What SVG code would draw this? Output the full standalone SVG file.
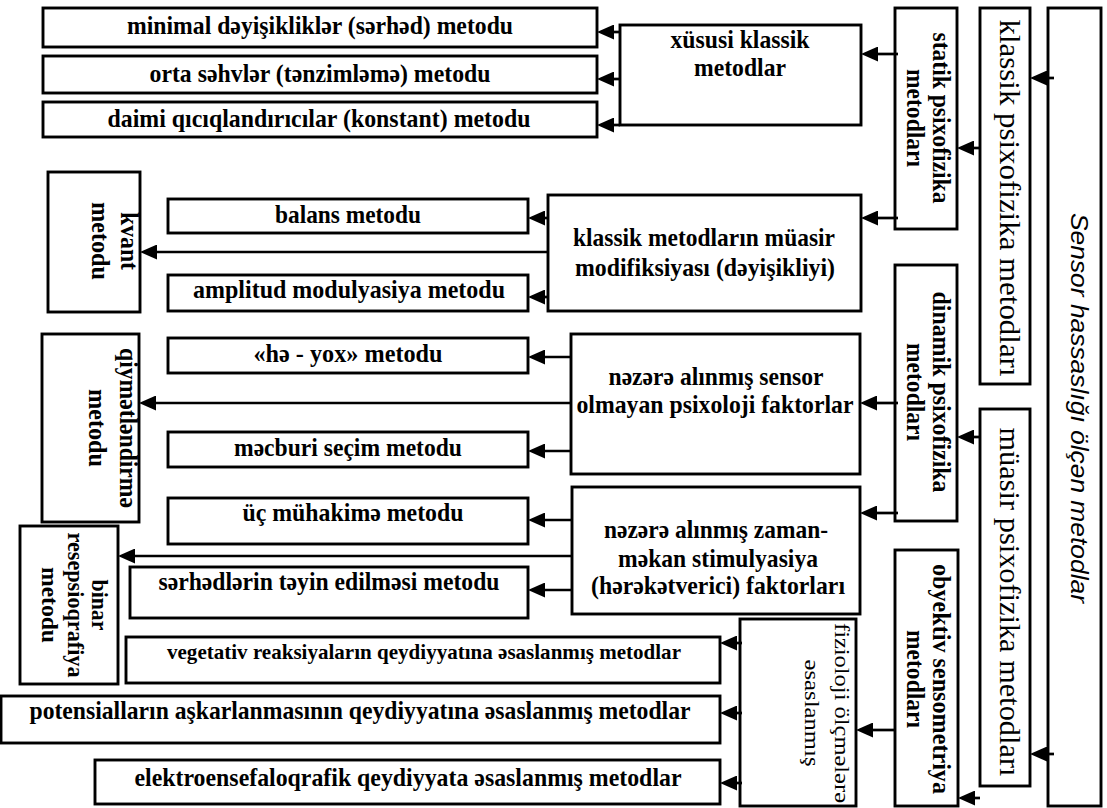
<svg xmlns="http://www.w3.org/2000/svg" width="1107" height="808" viewBox="0 0 1107 808">
<style>
.box{fill:#fff;stroke:#000;stroke-width:2.9}
.b{font-family:"Liberation Serif","Times New Roman",serif;font-weight:bold;font-size:25px;text-anchor:middle;fill:#000}
.r{font-family:"Liberation Serif","Times New Roman",serif;font-weight:normal;text-anchor:middle;fill:#000}
.s{font-family:"Liberation Sans",Arial,sans-serif;font-style:italic;font-size:24px;text-anchor:middle;fill:#000}
#conn path{fill:none;stroke:#000;stroke-width:2.7;marker-end:url(#ah)}
</style>
<defs>
<marker id="ah" markerUnits="userSpaceOnUse" markerWidth="18" markerHeight="15" refX="9" refY="7.5" orient="auto">
<path d="M0,0 L17,7.5 L0,15 Z" fill="#000"/>
</marker>
</defs>
<rect width="1107" height="808" fill="#fff"/>

<g id="sensor"><rect class="box" x="1048" y="8" width="53" height="798"/>
<text class="s" transform="translate(1074.5,408) rotate(90)" y="4" textLength="390" lengthAdjust="spacingAndGlyphs">Sensor hassaslığı ölçən metodlar</text></g>

<g id="klassik-psixofizika"><rect class="box" x="980" y="8" width="50" height="376"/>
<text class="r" style="font-size:30px" transform="translate(1005,198) rotate(90)" y="5" textLength="357" lengthAdjust="spacingAndGlyphs">klassik psixofizika metodları</text></g>

<g id="muasir-psixofizika"><rect class="box" x="980" y="409" width="50" height="377"/>
<text class="r" style="font-size:30px" transform="translate(1005,602) rotate(90)" y="5" textLength="349" lengthAdjust="spacingAndGlyphs">müasir psixofizika metodları</text></g>

<g id="statik"><rect class="box" x="895" y="8" width="62" height="221"/>
<g transform="translate(926,118) rotate(90)">
<text class="b" y="-7" textLength="171" lengthAdjust="spacingAndGlyphs">statik psixofizika</text>
<text class="b" y="19" textLength="98" lengthAdjust="spacingAndGlyphs">metodları</text></g></g>

<g id="dinamik"><rect class="box" x="895" y="265" width="62" height="256"/>
<g transform="translate(926,392) rotate(90)">
<text class="b" y="-7" textLength="201" lengthAdjust="spacingAndGlyphs">dinamik psixofizika</text>
<text class="b" y="19" textLength="98" lengthAdjust="spacingAndGlyphs">metodları</text></g></g>

<g id="obyektiv"><rect class="box" x="895" y="550" width="63" height="256"/>
<g transform="translate(926,679) rotate(90)">
<text class="b" y="-7" textLength="230" lengthAdjust="spacingAndGlyphs">obyektiv sensometriya</text>
<text class="b" y="19" textLength="98" lengthAdjust="spacingAndGlyphs">metodları</text></g></g>

<g id="xususi"><rect class="box" x="620" y="25" width="241" height="100"/>
<text class="b" x="740" y="48" textLength="139" lengthAdjust="spacingAndGlyphs">xüsusi klassik</text>
<text class="b" x="740" y="76" textLength="92" lengthAdjust="spacingAndGlyphs">metodlar</text></g>

<g id="minimal"><rect class="box" x="43" y="8" width="554" height="39"/>
<text class="b" x="320" y="34" textLength="386" lengthAdjust="spacingAndGlyphs">minimal dəyişikliklər (sərhəd) metodu</text></g>

<g id="orta"><rect class="box" x="43" y="56" width="554" height="37"/>
<text class="b" x="320" y="82" textLength="341" lengthAdjust="spacingAndGlyphs">orta səhvlər (tənzimləmə) metodu</text></g>

<g id="daimi"><rect class="box" x="43" y="102" width="554" height="35"/>
<text class="b" x="319" y="127" textLength="423" lengthAdjust="spacingAndGlyphs">daimi qıcıqlandırıcılar (konstant) metodu</text></g>

<g id="klassik-modifikasiya"><rect class="box" x="548" y="195" width="313" height="116"/>
<text class="b" x="704" y="246" textLength="262" lengthAdjust="spacingAndGlyphs">klassik metodların müasir</text>
<text class="b" x="705" y="276" textLength="260" lengthAdjust="spacingAndGlyphs">modifiksiyası (dəyişikliyi)</text></g>

<g id="kvant"><rect class="box" x="48" y="172" width="92" height="140"/>
<g transform="translate(94,241) rotate(90)">
<text class="b" y="-27" textLength="58" lengthAdjust="spacingAndGlyphs">kvant</text>
<text class="b" y="2" textLength="78" lengthAdjust="spacingAndGlyphs">metodu</text></g></g>

<g id="balans"><rect class="box" x="168" y="199" width="360" height="34"/>
<text class="b" x="348" y="223" textLength="146" lengthAdjust="spacingAndGlyphs">balans metodu</text></g>

<g id="amplitud"><rect class="box" x="168" y="275" width="360" height="36"/>
<text class="b" x="349" y="298" textLength="312" lengthAdjust="spacingAndGlyphs">amplitud modulyasiya metodu</text></g>

<g id="qiymetlendirme"><rect class="box" x="42" y="334" width="97" height="188"/>
<g transform="translate(91,428) rotate(90)">
<text class="b" y="-29" textLength="160" lengthAdjust="spacingAndGlyphs">qiymətləndirmə</text>
<text class="b" y="2" textLength="78" lengthAdjust="spacingAndGlyphs">metodu</text></g></g>

<g id="he-yox"><rect class="box" x="168" y="338" width="360" height="35"/>
<text class="b" x="348" y="362" textLength="189" lengthAdjust="spacingAndGlyphs">«hə - yox» metodu</text></g>

<g id="mecburi"><rect class="box" x="168" y="432" width="360" height="35"/>
<text class="b" x="348" y="456" textLength="228" lengthAdjust="spacingAndGlyphs">məcburi seçim metodu</text></g>

<g id="sensor-olmayan"><rect class="box" x="571" y="334" width="289" height="140"/>
<text class="b" x="716" y="385" textLength="215" lengthAdjust="spacingAndGlyphs">nəzərə alınmış sensor</text>
<text class="b" x="715" y="413" textLength="277" lengthAdjust="spacingAndGlyphs">olmayan psixoloji faktorlar</text></g>

<g id="uc-muhakime"><rect class="box" x="168" y="498" width="360" height="46"/>
<text class="b" x="353" y="521" textLength="221" lengthAdjust="spacingAndGlyphs">üç mühakimə metodu</text></g>

<g id="zaman-mekan"><rect class="box" x="572" y="487" width="288" height="127"/>
<text class="b" x="716" y="538" textLength="224" lengthAdjust="spacingAndGlyphs">nəzərə alınmış zaman-</text>
<text class="b" x="718" y="567" textLength="200" lengthAdjust="spacingAndGlyphs">məkan stimulyasiya</text>
<text class="b" x="718" y="594" textLength="254" lengthAdjust="spacingAndGlyphs">(hərəkətverici) faktorları</text></g>

<g id="binar"><rect class="box" x="20" y="526" width="98" height="158"/>
<g transform="translate(69,605) rotate(90)">
<text class="b" style="font-size:23px" y="-23" textLength="51" lengthAdjust="spacingAndGlyphs">binar</text>
<text class="b" style="font-size:23px" y="1" textLength="145" lengthAdjust="spacingAndGlyphs">resepsioqrafiya</text>
<text class="b" style="font-size:23px" y="27" textLength="76" lengthAdjust="spacingAndGlyphs">metodu</text></g></g>

<g id="serhedler"><rect class="box" x="130" y="567" width="398" height="51"/>
<text class="b" x="329" y="590" textLength="341" lengthAdjust="spacingAndGlyphs">sərhədlərin təyin edilməsi metodu</text></g>

<g id="fizioloji"><rect class="box" x="740" y="619" width="116" height="187"/>
<g transform="translate(798,713) rotate(90)">
<text class="r" style="font-size:20px" y="-37" textLength="180" lengthAdjust="spacingAndGlyphs">fizioloji ölçmələrə</text>
<text class="r" style="font-size:20px" y="-7" textLength="107" lengthAdjust="spacingAndGlyphs">əsaslanmış</text></g></g>

<g id="vegetativ"><rect class="box" x="126" y="637" width="594" height="46"/>
<text class="b" style="font-size:22px" x="424" y="659" textLength="514" lengthAdjust="spacingAndGlyphs">vegetativ reaksiyaların qeydiyyatına əsaslanmış metodlar</text></g>

<g id="potensial"><rect class="box" x="1" y="696" width="719" height="47"/>
<text class="b" x="360" y="719" textLength="661" lengthAdjust="spacingAndGlyphs">potensialların aşkarlanmasının qeydiyyatına əsaslanmış metodlar</text></g>

<g id="elektro"><rect class="box" x="95" y="760" width="625" height="44"/>
<text class="b" x="408" y="786" textLength="547" lengthAdjust="spacingAndGlyphs">elektroensefaloqrafik qeydiyyata əsaslanmış metodlar</text></g>

<g id="conn">
<path d="M1054,78 H1038"/>
<path d="M1054,754 H1038"/>
<path d="M980,148 H965"/>
<path d="M980,437 H965"/>
<path d="M980,798 H966"/>
<path d="M898,54 H869"/>
<path d="M898,218 H869"/>
<path d="M898,403 H868"/>
<path d="M898,513 H868"/>
<path d="M896,730 H864"/>
<path d="M620,32 H605"/>
<path d="M620,79 H605"/>
<path d="M620,125 H605"/>
<path d="M548,218 H536"/>
<path d="M548,252 H148"/>
<path d="M548,297 H536"/>
<path d="M571,357 H536"/>
<path d="M571,403 H147"/>
<path d="M571,451 H536"/>
<path d="M572,520 H536"/>
<path d="M572,556 H126"/>
<path d="M572,590 H536"/>
<path d="M742,643 H728"/>
<path d="M742,713 H728"/>
<path d="M742,783 H728"/>
</g>
</svg>
